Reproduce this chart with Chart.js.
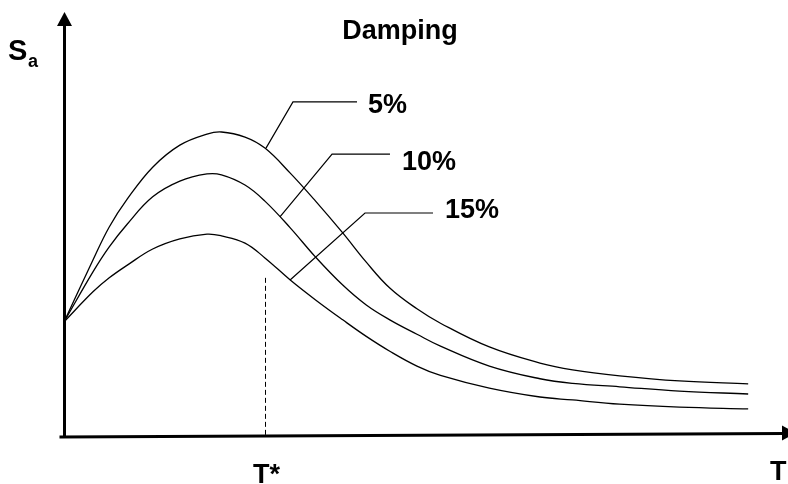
<!DOCTYPE html>
<html>
<head>
<meta charset="utf-8">
<script src="https://cdn.jsdelivr.net/npm/chart.js@4.4.0/dist/chart.umd.min.js"></script>
<style>
  html, body { margin: 0; padding: 0; background: #fff; }
  #wrap { width: 788px; height: 484px; }
</style>
</head>
<body>
<div id="wrap"><canvas id="spectrumChart" width="788" height="484"></canvas></div>
<script>
// period T (s) and spectral acceleration Sa (g)
const periods = [0, 0.16, 0.25, 0.35, 0.49, 0.64, 0.79, 0.87, 1.00, 1.11, 1.25, 1.39,
                 1.54, 1.67, 1.80, 1.95, 2.08, 2.35, 2.63, 2.81, 3.07, 3.40, 3.78];
const sa5  = [0.269, 0.415, 0.493, 0.559, 0.634, 0.686, 0.712, 0.717, 0.705, 0.679, 0.620, 0.554,
              0.479, 0.410, 0.349, 0.300, 0.266, 0.210, 0.172, 0.156, 0.142, 0.130, 0.123];
const sa10 = [0.269, 0.387, 0.446, 0.500, 0.564, 0.601, 0.618, 0.616, 0.592, 0.554, 0.491, 0.422,
              0.356, 0.309, 0.274, 0.240, 0.212, 0.165, 0.135, 0.124, 0.116, 0.106, 0.099];
const sa15 = [0.269, 0.340, 0.373, 0.403, 0.441, 0.465, 0.476, 0.472, 0.455, 0.420, 0.368, 0.321,
              0.274, 0.235, 0.200, 0.165, 0.143, 0.113, 0.092, 0.085, 0.075, 0.068, 0.064];
const dampingLabels = ["5%", "10%", "15%"];
const tStar = 1.11;
const tStarSa = 0.373;

// leader lines from each curve to its label (data units)
const leaders = [
  { from: [1.116, 0.679], elbow: [1.265, 0.788], end: 1.619, textT: 1.680, textSa: 0.762 },
  { from: [1.193, 0.517], elbow: [1.481, 0.665], end: 1.801, textT: 1.867, textSa: 0.627 },
  { from: [1.249, 0.368], elbow: [1.663, 0.526], end: 2.039, textT: 2.105, textSa: 0.514 }
];

const FONT = '"Liberation Sans", Arial, sans-serif';

const toPoints = (vals) => periods.map((t, i) => ({ x: t, y: vals[i] }));

const sketchPlugin = {
  id: "sketch",
  afterDatasetsDraw(chart) {
    const ctx = chart.ctx;
    const X = (v) => chart.scales.x.getPixelForValue(v);
    const Y = (v) => chart.scales.y.getPixelForValue(v);
    const area = chart.chartArea;
    ctx.save();
    ctx.strokeStyle = "#000";
    ctx.fillStyle = "#000";

    // dashed line at T*
    ctx.lineWidth = 1;
    ctx.setLineDash([5, 3]);
    ctx.beginPath();
    ctx.moveTo(Math.round(X(tStar)) + 0.5, Y(tStarSa));
    ctx.lineTo(Math.round(X(tStar)) + 0.5, Y(0));
    ctx.stroke();
    ctx.setLineDash([]);

    // leader lines + labels
    ctx.lineWidth = 1.2;
    ctx.font = "bold 27px " + FONT;
    ctx.textBaseline = "alphabetic";
    ctx.textAlign = "left";
    leaders.forEach((l, i) => {
      ctx.beginPath();
      ctx.moveTo(X(l.from[0]), Y(l.from[1]));
      ctx.lineTo(X(l.elbow[0]), Y(l.elbow[1]));
      ctx.lineTo(X(l.end), Y(l.elbow[1]));
      ctx.stroke();
      ctx.fillText(dampingLabels[i], X(l.textT), Y(l.textSa));
    });

    // axes with arrow heads
    const x0 = X(0) + 0.5, y0 = Y(0);
    ctx.lineWidth = 3;
    ctx.beginPath();
    ctx.moveTo(x0, y0 + 2);
    ctx.lineTo(x0, area.top + 12);
    ctx.stroke();
    ctx.beginPath();
    ctx.moveTo(x0, area.top);
    ctx.lineTo(x0 - 7.5, area.top + 14);
    ctx.lineTo(x0 + 7.5, area.top + 14);
    ctx.closePath();
    ctx.fill();

    ctx.beginPath();
    ctx.moveTo(x0 - 5, y0 + 1);
    ctx.lineTo(area.right - 4, y0 - 2.5);
    ctx.stroke();
    ctx.beginPath();
    ctx.moveTo(area.right + 8, y0 - 3);
    ctx.lineTo(area.right - 6, y0 - 10.5);
    ctx.lineTo(area.right - 6, y0 + 4.5);
    ctx.closePath();
    ctx.fill();

    // texts
    ctx.font = "bold 27px " + FONT;
    ctx.textAlign = "center";
    ctx.fillText("Damping", 400, 39);
    ctx.textAlign = "left";
    ctx.fillText("T*", 253, 483);
    ctx.fillText("T", 770, 480);
    ctx.font = "bold 29px " + FONT;
    ctx.fillText("S", 8, 60);
    ctx.font = "bold 18px " + FONT;
    ctx.fillText("a", 28, 67);
    ctx.restore();
  }
};

new Chart(document.getElementById("spectrumChart").getContext("2d"), {
  type: "line",
  data: {
    datasets: [sa5, sa10, sa15].map((vals, i) => ({
      label: dampingLabels[i],
      data: toPoints(vals),
      borderColor: "#000",
      borderWidth: 1.3,
      pointRadius: 0,
      fill: false,
      tension: 0.4
    }))
  },
  options: {
    responsive: false,
    animation: false,
    devicePixelRatio: 1,
    layout: { padding: { left: 64, right: 0, top: 12, bottom: 48 } },
    scales: {
      x: { type: "linear", min: 0, max: 4, display: false },
      y: { type: "linear", min: 0, max: 1, display: false }
    },
    plugins: {
      legend: { display: false },
      tooltip: { enabled: false },
      title: { display: false }
    }
  },
  plugins: [sketchPlugin]
});
</script>
</body>
</html>
